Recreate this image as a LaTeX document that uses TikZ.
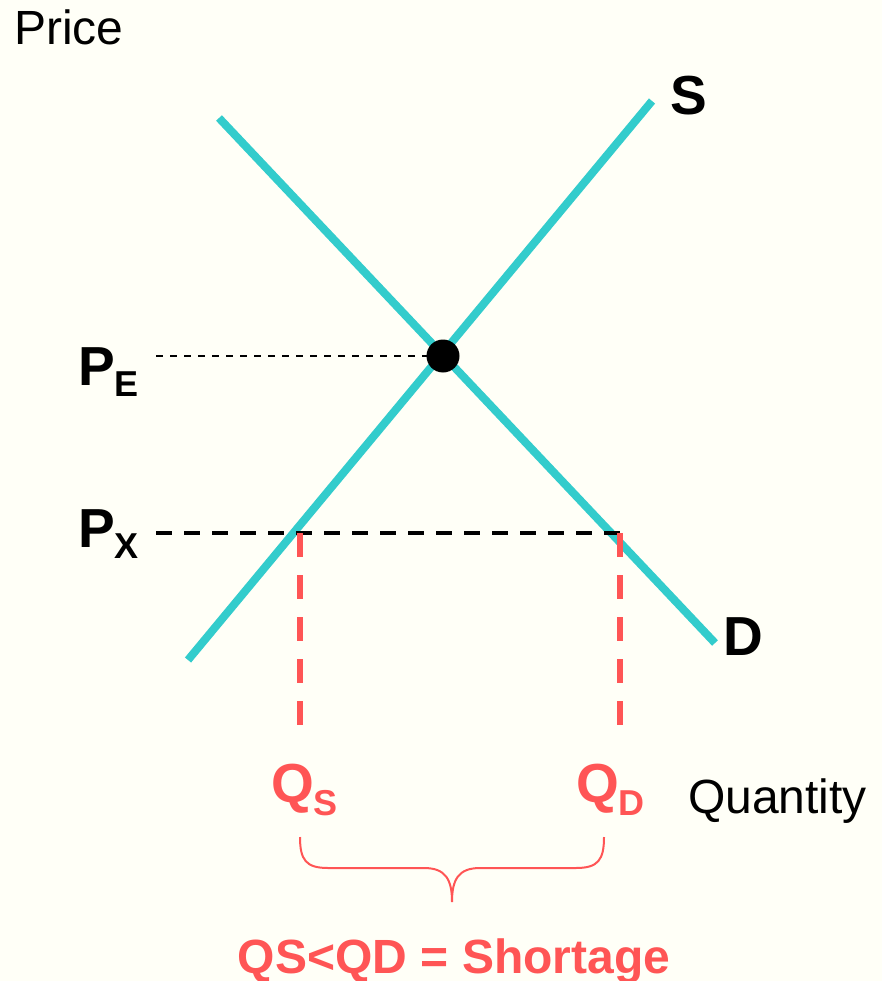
\documentclass[tikz,border=0pt]{standalone}
\usepackage{fontspec}
\setmainfont{Liberation Sans}
\definecolor{bgc}{HTML}{FFFFF7}
\definecolor{tealc}{HTML}{33CCCC}
\definecolor{redc}{HTML}{FF5555}
\begin{document}
\begin{tikzpicture}[x=1pt,y=-1pt,
  curve/.style={tealc,line width=8pt},
  biglbl/.style={inner sep=0pt,anchor=base west,font=\fontsize{55}{60}\selectfont\bfseries},
  axlbl/.style={inner sep=0pt,anchor=base west,font=\fontsize{48}{52}\selectfont},
  dotline/.style={black,line width=2.5pt,dash pattern=on 7pt off 7pt},
  pxline/.style={black,line width=4pt,dash pattern=on 16pt off 12pt},
  qline/.style={redc,line width=6.5pt,dash pattern=on 24pt off 18pt},
  bracec/.style={redc,line width=2pt}]
\fill[bgc] (0,0) rectangle (882,981);
\useasboundingbox (0,0) rectangle (882,981);
% coordinates
\coordinate (s1) at (188,660);
\coordinate (s2) at (652,101);
\coordinate (d1) at (219,118);
\coordinate (d2) at (715,643);
\coordinate (pe0) at (156,356);
\coordinate (px0) at (156,533);
\coordinate (px1) at (620,533);
\coordinate (qs0) at (300,533);
\coordinate (qs1) at (300,725);
\coordinate (qd0) at (620,533);
\coordinate (qd1) at (620,725);
% lines
\draw[dotline] (pe0) -- (443,356);
\draw[curve] (s1) -- (s2);
\draw[curve] (d1) -- (d2);
\node[circle,fill=black,minimum size=33pt,inner sep=0pt] (eq) at (443,356) {};
\draw[pxline] (px0) -- (px1);
\draw[qline] (qs0) -- (qs1);
\draw[qline] (qd0) -- (qd1);
% brace
\coordinate (bl) at (300,837);
\coordinate (br) at (604,837);
\coordinate (bt) at (452,902);
\draw[bracec] (bl) .. controls (300,860) and (306,868) .. (328,868) -- (424,868)
  .. controls (446,868) and (452,880) .. (bt)
  .. controls (452,880) and (458,868) .. (480,868) -- (576,868)
  .. controls (598,868) and (604,860) .. (br);
% labels
\node[axlbl] (price) at (14,45) {Price};
\node[axlbl] (qty) at (688,813) {Quantity};
\node[biglbl] (slbl) at (670,115) {S};
\node[biglbl] (dlbl) at (723,655) {D};
\node[biglbl] (pe) at (78,385) {P\raisebox{-11pt}{\fontsize{36}{40}\selectfont E}};
\node[biglbl] (px) at (78,547) {P\raisebox{-11pt}{\fontsize{36}{40}\selectfont X}};
\node[biglbl,redc] (qs) at (271,802) {Q\raisebox{-13pt}{\fontsize{36}{40}\selectfont S}};
\node[biglbl,redc] (qd) at (576,802) {Q\raisebox{-13pt}{\fontsize{36}{40}\selectfont D}};
\node[inner sep=0pt,anchor=base,redc,font=\fontsize{48}{50}\selectfont\bfseries] (short) at (454,973) {QS<QD = Shortage};
\end{tikzpicture}
\end{document}
